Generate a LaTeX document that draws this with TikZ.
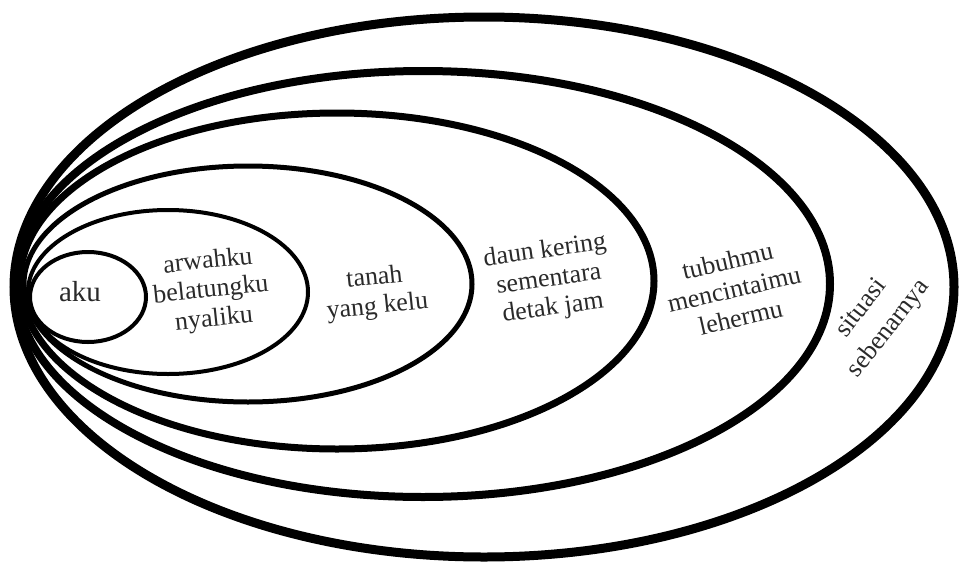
\documentclass[tikz,border=0pt]{standalone}
\usepackage{fontspec}
\setmainfont{Liberation Serif}
\definecolor{inkgray}{HTML}{2A2A2A}
\begin{document}
\begin{tikzpicture}[x=1pt,y=-1pt,
  ring/.style={draw=black},
  lbl/.style={text=inkgray,align=center,inner sep=0pt,font=\fontsize{26}{29}\selectfont}]
\useasboundingbox (0,0) rectangle (964,573);
% nested ellipses, outermost first
\draw[ring,line width=9pt] (484,287) ellipse [x radius=470pt, y radius=270pt];
\draw[ring,line width=8pt] (423,284) ellipse [x radius=407pt, y radius=213pt];
\draw[ring,line width=7pt] (337,281) ellipse [x radius=317pt, y radius=168pt];
\draw[ring,line width=5pt] (248,284) ellipse [x radius=224pt, y radius=118pt];
\draw[ring,line width=4pt] (168,292) ellipse [x radius=140pt, y radius=82pt];
\draw[ring,line width=4pt] (88,297) ellipse [x radius=58pt, y radius=45pt];
% labels
\node[lbl,font=\fontsize{29}{30}\selectfont] (aku) at (80,292) {aku};
\node[lbl,rotate=6] (l2) at (211,291) {arwahku\\belatungku\\nyaliku};
\node[lbl,rotate=6] (l3) at (376,293) {tanah\\yang kelu};
\node[lbl,rotate=8] (l4) at (549,280) {daun kering\\sementara\\detak jam};
\node[lbl,rotate=13] (l5) at (734,289) {tubuhmu\\mencintaimu\\lehermu};
\node[lbl,rotate=52] (l6a) at (860,307) {situasi};
\node[lbl,rotate=52] (l6b) at (889,329) {sebenarnya};
\end{tikzpicture}
\end{document}
